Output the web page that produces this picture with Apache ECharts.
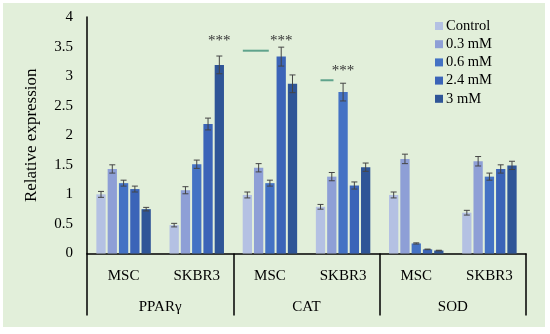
<!DOCTYPE html>
<html>
<head>
<meta charset="utf-8">
<script src="https://cdn.jsdelivr.net/npm/echarts@6/dist/echarts.min.js"></script>
<style>
html,body{margin:0;padding:0;background:#ffffff;}
#chart{position:absolute;left:3px;top:3px;width:542px;height:324px;}
</style>
</head>
<body>
<div id="chart"></div>
<script>
// ---- data ----
var cellLines = ['MSC', 'SKBR3', 'MSC', 'SKBR3', 'MSC', 'SKBR3'];
var genes = ['PPARγ', 'CAT', 'SOD'];
var seriesNames = ['Control', '0.3 mM', '0.6 mM', '2.4 mM', '3 mM'];
var control = [1.0, 0.48, 0.99, 0.79, 0.99, 0.69];
var mM03    = [1.43, 1.07, 1.45, 1.30, 1.60, 1.56];
var mM06    = [1.19, 1.51, 1.19, 2.73, 0.17, 1.30];
var mM24    = [1.09, 2.19, 3.33, 1.15, 0.07, 1.43];
var mM3     = [0.75, 3.19, 2.87, 1.46, 0.05, 1.49];
var errControl = [0.05, 0.03, 0.05, 0.04, 0.05, 0.04];
var err03      = [0.07, 0.06, 0.07, 0.07, 0.08, 0.08];
var err06      = [0.05, 0.07, 0.05, 0.15, 0.01, 0.06];
var err24      = [0.05, 0.10, 0.16, 0.06, 0.005, 0.07];
var err3       = [0.03, 0.15, 0.15, 0.07, 0.005, 0.07];
var yTicks = { min: 0, max: 4, interval: 0.5 };
// significance marks: category index, series index, value height of the label
var starMarks = [[1, 4, 3.6], [2, 3, 3.6], [3, 2, 3.08]];
// comparison lines: category index, value height
var compLines = [[2, 3.43], [3, 2.93]];

var values = [control, mM03, mM06, mM24, mM3];
var errors = [errControl, err03, err06, err24, err3];
var colors = ['#b4c1e3', '#8e9fd6', '#4472c4', '#3b64b8', '#2f5597'];
var FONT = '"Liberation Serif", "DejaVu Serif", serif';
var BW = 0.127, GAP = 0.215;

var errData = [];
values.forEach(function (arr, s) {
  arr.forEach(function (v, c) { errData.push([c, s, v, errors[s][c]]); });
});

var series = values.map(function (arr, s) {
  return {
    name: seriesNames[s], type: 'bar', data: arr,
    barWidth: (BW * 100) + '%', barGap: (GAP * 100) + '%',
    itemStyle: { color: colors[s] }
  };
});

series.push({
  type: 'custom', name: 'err', data: errData, encode: { x: 0, y: 2 }, z: 5,
  renderItem: function (params, api) {
    var c = api.value(0), s = api.value(1), v = api.value(2), e = api.value(3);
    var band = api.size([1, 0])[0];
    var pitch = band * BW * (1 + GAP);
    var x = api.coord([c, v])[0] + (s - 2) * pitch;
    var yt = api.coord([c, v + e])[1];
    var yb = api.coord([c, v - e])[1];
    var st = { stroke: '#454545', lineWidth: 1 };
    return { type: 'group', children: [
      { type: 'line', shape: { x1: x, y1: yt, x2: x, y2: yb }, style: st },
      { type: 'line', shape: { x1: x - 3, y1: yt, x2: x + 3, y2: yt }, style: st },
      { type: 'line', shape: { x1: x - 3, y1: yb, x2: x + 3, y2: yb }, style: st }
    ]};
  }
});

series.push({
  type: 'custom', name: 'stars', data: starMarks, encode: { x: 0, y: 2 }, z: 6,
  renderItem: function (params, api) {
    var c = api.value(0), s = api.value(1), v = api.value(2);
    var band = api.size([1, 0])[0];
    var pitch = band * BW * (1 + GAP);
    var p = api.coord([c, v]);
    return { type: 'text', style: { x: p[0] + (s - 2) * pitch, y: p[1], text: '***',
      textAlign: 'center', textVerticalAlign: 'middle', font: '15px ' + FONT, fill: '#333333' } };
  }
});

series.push({
  type: 'custom', name: 'lines', data: compLines, encode: { x: 0, y: 1 }, z: 6,
  renderItem: function (params, api) {
    var c = api.value(0), v = api.value(1);
    var band = api.size([1, 0])[0];
    var pitch = band * BW * (1 + GAP);
    var p = api.coord([c, v]);
    var x1 = c === 2 ? p[0] - 2.4 * pitch : p[0] - 2 * pitch;
    var x2 = c === 2 ? p[0] - 0.1 * pitch : p[0] - 0.85 * pitch;
    return { type: 'line', shape: { x1: x1, y1: p[1], x2: x2, y2: p[1] },
      style: { stroke: '#5fa38c', lineWidth: 2 } };
  }
});

var chart = echarts.init(document.getElementById('chart'));
chart.setOption({
  backgroundColor: '#e2efda',
  animation: false,
  grid: { left: 84, right: 19, top: 14, bottom: 73.5 },
  legend: {
    data: seriesNames, orient: 'vertical', left: 427, top: 10,
    itemWidth: 8, itemHeight: 8, itemGap: 2.2, icon: 'rect',
    textStyle: { fontFamily: FONT, fontSize: 14.5, color: '#000', lineHeight: 16, padding: [0, 0, 0, -2] }
  },
  xAxis: [
    { type: 'category', data: cellLines, position: 'bottom',
      axisLine: { show: true, lineStyle: { color: '#000', width: 1.5 } },
      axisTick: { show: false },
      axisLabel: { fontFamily: FONT, fontSize: 15, color: '#000', margin: 15, interval: 0 } },
    { type: 'category', data: genes, position: 'bottom',
      axisLine: { show: false },
      axisTick: { show: true, length: 62, interval: 0, lineStyle: { color: '#000', width: 1.5 } },
      axisLabel: { fontFamily: FONT, fontSize: 15, color: '#000', margin: 46, interval: 0 } }
  ],
  yAxis: {
    type: 'value', min: yTicks.min, max: yTicks.max, interval: yTicks.interval,
    splitLine: { show: false },
    axisLine: { show: true, lineStyle: { color: '#000', width: 1.5 } },
    axisTick: { show: false },
    axisLabel: { fontFamily: FONT, fontSize: 15, color: '#000', margin: 14 },
    name: 'Relative expression', nameLocation: 'middle', nameGap: 47,
    nameTextStyle: { fontFamily: FONT, fontSize: 17, color: '#000' }
  },
  series: series
});
</script>
</body>
</html>
